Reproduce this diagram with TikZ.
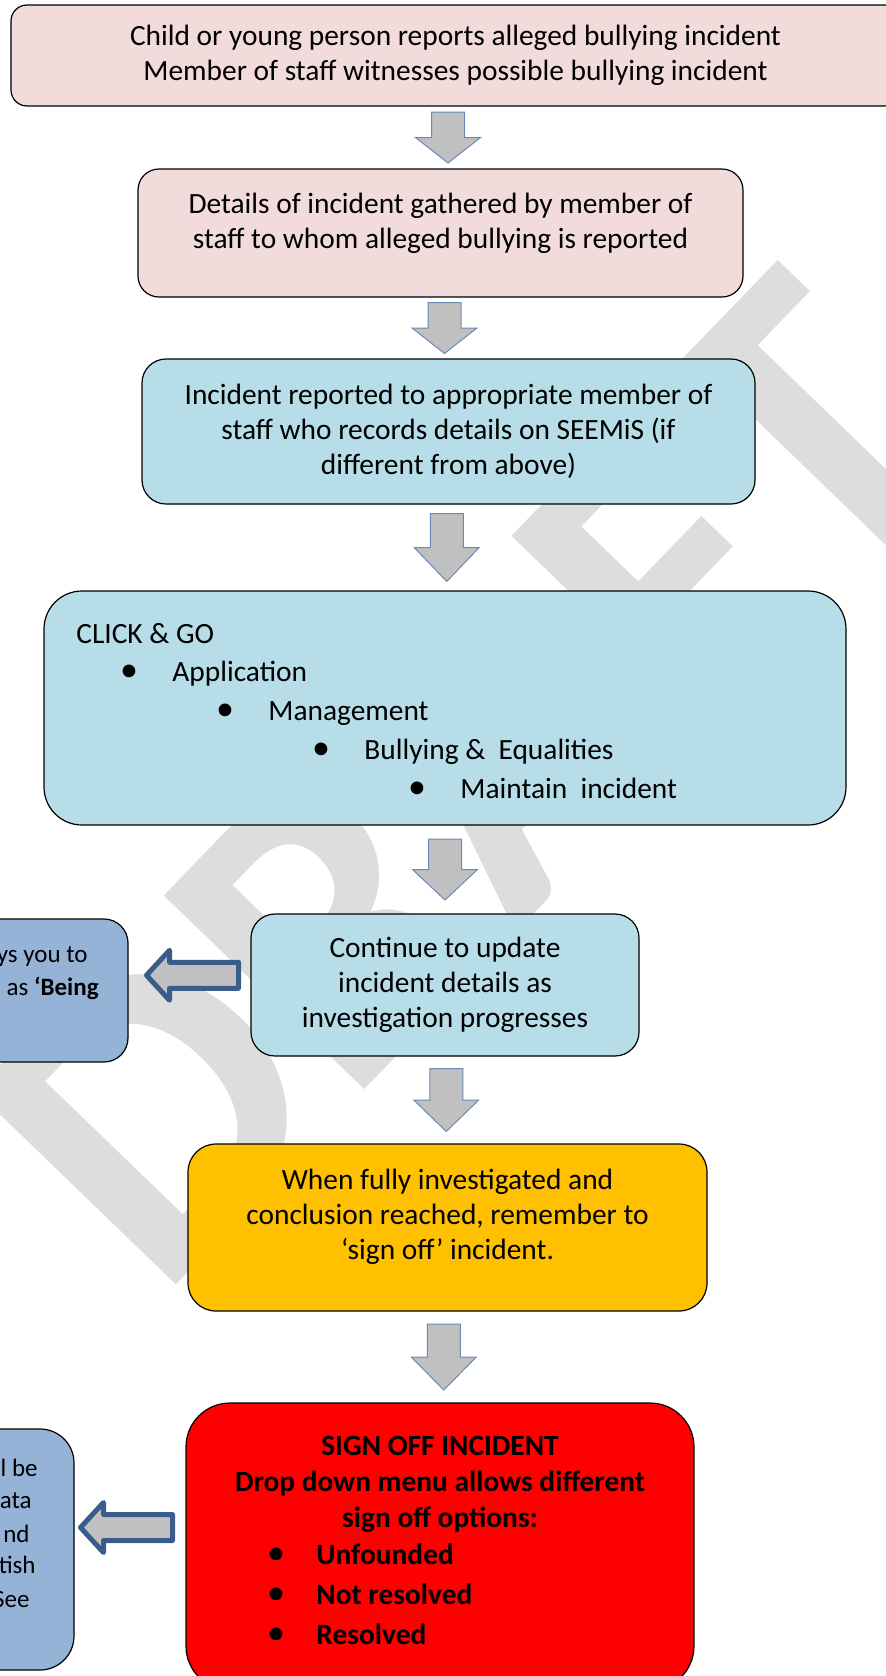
\documentclass[tikz,border=0pt]{standalone}
\usepackage{fontspec}
\setmainfont{Carlito}
\usetikzlibrary{calc}

\definecolor{pinkfill}{HTML}{F2DCDB}
\definecolor{bluefill}{HTML}{B7DEE8}
\definecolor{notefill}{HTML}{95B3D7}
\definecolor{orangefill}{HTML}{FFC000}
\definecolor{redfill}{HTML}{FF0000}
\definecolor{arrowfill}{HTML}{C0C0C0}
\definecolor{arrowline}{HTML}{6A8AB8}
\definecolor{noteline}{HTML}{385D8A}
\definecolor{markgray}{HTML}{DDDDDD}

\newcommand{\bigbullet}{{\fontsize{18}{18}\selectfont\textbullet}}
\newcommand{\lowpad}[1]{\rule[-#1]{0pt}{0pt}}

\tikzset{
  box/.style={draw=black, line width=0.6pt, align=center, inner sep=0pt},
  boxsize/.style 2 args={minimum width=#1*0.5pt, minimum height=#2*0.5pt},
  notetext/.style={anchor=base east, inner sep=0pt, font=\fontsize{12.5}{16}\selectfont},
  linetext/.style={anchor=base west, inner sep=0pt},
  boldtext/.style={font=\fontsize{14.7}{17.5}\selectfont\bfseries},
  blockdown/.style={fill=arrowfill, draw=arrowline, line width=0.5pt},
  blockleft/.style={fill=arrowfill, draw=noteline, line width=2.5pt, line join=round},
  pics/downarrow/.style={code={
    \draw[blockdown] (-16.5,{-#1/2}) -- (16.5,{-#1/2}) -- (16.5,0) -- (32.5,0)
      -- (0,{#1/2}) -- (-32.5,0) -- (-16.5,0) -- cycle;
  }},
  pics/leftarrow/.style={code={
    \draw[blockleft] (46,-13) -- (-23,-13) -- (-23,-25) -- (-46,0)
      -- (-23,25) -- (-23,13) -- (46,13) -- cycle;
  }},
}

\begin{document}
\begin{tikzpicture}[x=0.5pt, y=-0.5pt, font=\fontsize{14.7}{17.5}\selectfont]
\useasboundingbox (0,0) rectangle (886,1676);

% watermark
\node (draftmark) [rotate=46, text=markgray, inner sep=0pt,
  font=\fontsize{215}{215}\selectfont\bfseries] at (470,780) {DRAFT};

% main column
\node (report) [box, fill=pinkfill, rounded corners=8pt, boxsize={889}{101}] at (455.5,55.5)
  {Child or young person reports alleged bullying incident\\
   Member of staff witnesses possible bullying incident};
\node (gather) [box, fill=pinkfill, rounded corners=10.5pt, boxsize={605}{128}] at (440.5,233)
  {Details of incident gathered by member of\\
   staff to whom alleged bullying is reported\lowpad{12pt}};
\node (record) [box, fill=bluefill, rounded corners=12pt, boxsize={613}{145}] at (448.5,431.5)
  {Incident reported to appropriate member of\\
   staff who records details on SEEMiS (if\\
   different from above)};
\node (clickgo) [box, fill=bluefill, rounded corners=19pt, boxsize={802}{234}] at (445,708) {};
\node (update) [box, fill=bluefill, rounded corners=12pt, boxsize={388}{142}] at (445,985)
  {Continue to update\\
   incident details as\\
   investigation progresses};
\node (conclude) [box, fill=orangefill, rounded corners=14pt, boxsize={519}{167}] at (447.5,1227.5)
  {When fully investigated and\\
   conclusion reached, remember to\\
   ‘sign off’ incident.\lowpad{13pt}};
\node (signoff) [box, fill=redfill, rounded corners=22pt, boxsize={508}{287}] at (440,1546.5) {};

% side notes (cut by the page edge)
\node (noteA) [box, fill=notefill, rounded corners=12pt, boxsize={228}{143}] at (14,990.5) {};
\node (noteB) [box, fill=notefill, rounded corners=17pt, boxsize={224}{241}] at (-38,1549.5) {};

% click & go menu path
\node (menu) [linetext] at (76,643) {CLICK \& GO};
\foreach \item [count=\i] in {Application, Management, Bullying \&\ \ Equalities, Maintain\ \ incident}
{
  \node (dot\i) [anchor=base, inner sep=0pt] at ({129+96*(\i-1)},{642+39*\i}) {\bigbullet};
  \node (item\i) [linetext] at ({172+96*(\i-1)},{642+39*\i}) {\item};
}

% sign off text
\node (sign1) [anchor=base, inner sep=0pt, boldtext] at (440,1455) {SIGN OFF INCIDENT};
\node (sign2) [anchor=base, inner sep=0pt, boldtext] at (440,1491) {Drop down menu allows different};
\node (sign3) [anchor=base, inner sep=0pt, boldtext] at (440,1527) {sign off options:};
\foreach \item [count=\i] in {Unfounded, Not resolved, Resolved}
{
  \node (sdot\i) [anchor=base, inner sep=0pt] at (276,{1524+40*\i}) {\bigbullet};
  \node (sitem\i) [linetext, boldtext] at (316,{1524+40*\i}) {\item};
}

% note fragments
\node (noteA1) [notetext] at (88,962) {ys you to};
\node (noteA2) [notetext] at (99,995) {as \textbf{‘Being}};
\node (noteB1) [notetext] at (38,1476) {l be};
\node (noteB2) [notetext] at (32,1508) {ata};
\node (noteB3) [notetext] at (30,1542) {nd};
\node (noteB4) [notetext] at (36,1573) {tish};
\node (noteB5) [notetext] at (30,1607) {See};

% block arrows
\pic at ($(report.south)!.5!(gather.north)$) {downarrow=51};
\pic at ($(gather.south)!.5!(record.north)$) {downarrow=51};
\pic at ($(record.south)!.5!(clickgo.north)$) {downarrow=68};
\pic at ($(clickgo.south)!.5!(update.north)$) {downarrow=61};
\pic at ($(update.south)!.5!(conclude.north)$) {downarrow=63};
\pic at ($(conclude.south)!.5!(signoff.north)$) {downarrow=66};
\pic at ($(update.west)!.5!(noteA.east)+(3,-12.5)$) {leftarrow};
\pic at ($(signoff.west)!.5!(noteB.east)+(-3.5,-20.5)$) {leftarrow};
\end{tikzpicture}
\end{document}
